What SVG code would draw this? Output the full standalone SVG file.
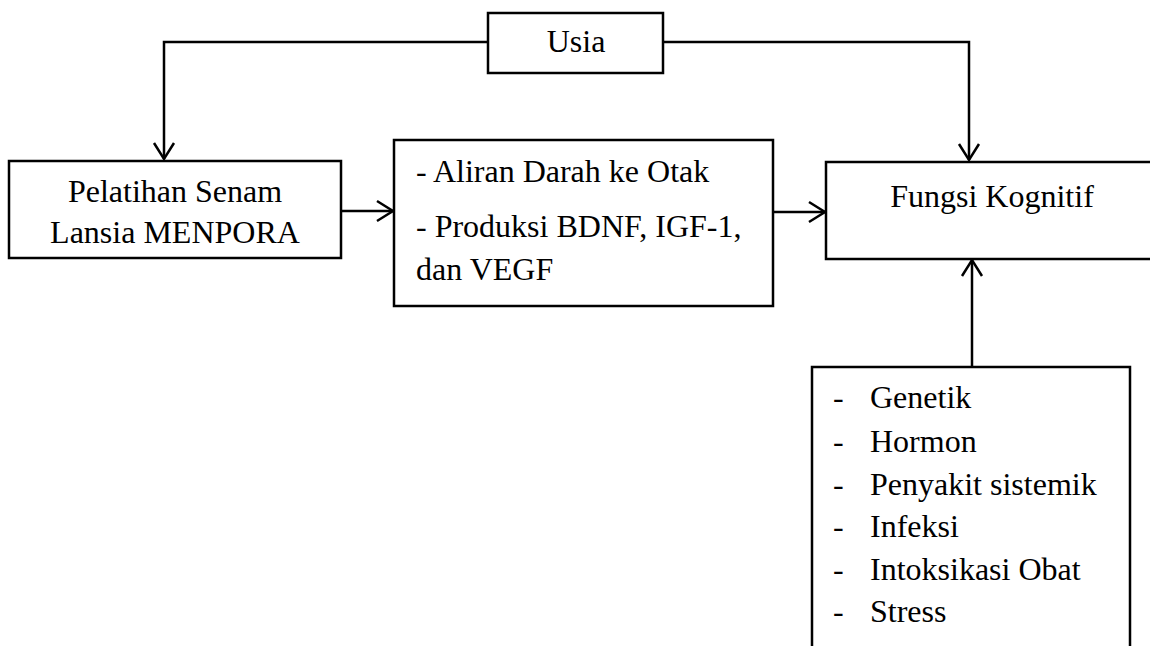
<svg xmlns="http://www.w3.org/2000/svg" width="1150" height="646" viewBox="0 0 1150 646">
<style>
.box{fill:#fff;stroke:#000;stroke-width:2.5}
.t{font-family:"Liberation Serif","Times New Roman",serif;font-size:32px;fill:#000}
.c{text-anchor:middle}
.ln{fill:none;stroke:#000;stroke-width:2.5}
</style>
<defs>
<marker id="arr" markerUnits="userSpaceOnUse" markerWidth="22" markerHeight="24" viewBox="0 -2 20 24" refX="18" refY="10" orient="auto">
<path d="M2,0 L18,10 L2,20" fill="none" stroke="#000" stroke-width="2.5"/>
</marker>
</defs>
<rect width="1150" height="646" fill="#fff"/>
<g id="connectors">
<path class="ln" d="M488,42 H164 V159" marker-end="url(#arr)"/>
<path class="ln" d="M663,42 H969 V160" marker-end="url(#arr)"/>
<path class="ln" d="M341,211 H393" marker-end="url(#arr)"/>
<path class="ln" d="M773,212 H825" marker-end="url(#arr)"/>
<path class="ln" d="M972,367 V260" marker-end="url(#arr)"/>
</g>
<g id="usia">
<rect class="box" x="488" y="13" width="175" height="60"/>
<text class="t c" x="576" y="52">Usia</text>
</g>
<g id="pelatihan">
<rect class="box" x="9" y="161" width="332" height="97"/>
<text class="t c" x="175" y="202">Pelatihan Senam</text>
<text class="t c" x="175" y="243">Lansia MENPORA</text>
</g>
<g id="mekanisme">
<rect class="box" x="394" y="140" width="379" height="166"/>
<text class="t" x="416" y="182">- Aliran Darah ke Otak</text>
<text class="t" x="416" y="237">- Produksi BDNF, IGF-1,</text>
<text class="t" x="416" y="280">dan VEGF</text>
</g>
<g id="fungsi">
<rect class="box" x="826" y="162" width="334" height="97"/>
<text class="t c" x="992" y="207">Fungsi Kognitif</text>
</g>
<g id="faktor">
<rect class="box" x="812" y="367" width="318" height="300"/>
<text class="t" x="833" y="408">-</text><text class="t" x="870" y="408">Genetik</text>
<text class="t" x="833" y="452">-</text><text class="t" x="870" y="452">Hormon</text>
<text class="t" x="833" y="495">-</text><text class="t" x="870" y="495">Penyakit sistemik</text>
<text class="t" x="833" y="537">-</text><text class="t" x="870" y="537">Infeksi</text>
<text class="t" x="833" y="580">-</text><text class="t" x="870" y="580">Intoksikasi Obat</text>
<text class="t" x="833" y="622">-</text><text class="t" x="870" y="622">Stress</text>
</g>
</svg>
